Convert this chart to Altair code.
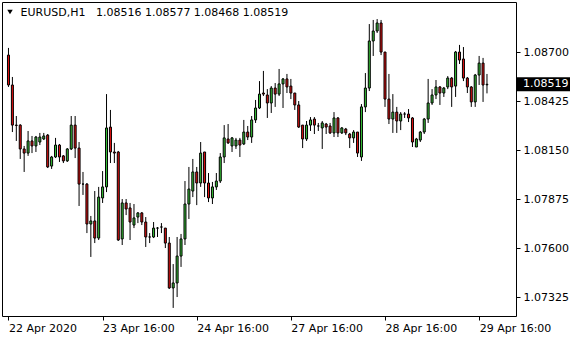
import altair as alt
import pandas as pd

FONT = "DejaVu Sans"
GREEN = "#36c036"
RED = "#e01010"

opens = [
    1.08683, 1.08515, 1.08290, 1.08290, 1.08156, 1.08133, 1.08201, 1.08173, 1.08195, 1.08212,
    1.08234, 1.08060, 1.08111, 1.08178, 1.08117, 1.08089, 1.08156, 1.08290, 1.08161, 1.07959,
    1.07959, 1.07735, 1.07752, 1.07656, 1.07881, 1.07943, 1.08279, 1.08139, 1.08139, 1.07651,
    1.07853, 1.07825, 1.07729, 1.07774, 1.07797, 1.07746, 1.07662, 1.07662, 1.07712, 1.07718,
    1.07712, 1.07628, 1.07376, 1.07404, 1.07555, 1.07651, 1.07847, 1.07920, 1.08027, 1.07965,
    1.08139, 1.07965, 1.07881, 1.07943, 1.07976, 1.08111, 1.08212, 1.08173, 1.08173, 1.08206,
    1.08184, 1.08251, 1.08223, 1.08319, 1.08386, 1.08470, 1.08459, 1.08414, 1.08498, 1.08464,
    1.08521, 1.08549, 1.08509, 1.08470, 1.08403, 1.08290, 1.08212, 1.08290, 1.08324, 1.08285,
    1.08274, 1.08296, 1.08285, 1.08246, 1.08330, 1.08246, 1.08268, 1.08240, 1.08218, 1.08251,
    1.08111, 1.08392, 1.08498, 1.08762, 1.08818, 1.08863, 1.08700, 1.08436, 1.08324, 1.08363,
    1.08313, 1.08352, 1.08352, 1.08330, 1.08167, 1.08206, 1.08251, 1.08324, 1.08414, 1.08459,
    1.08504, 1.08470, 1.08504, 1.08554, 1.08509, 1.08700, 1.08661, 1.08554, 1.08504, 1.08420,
    1.08571, 1.08638, 1.08516,
]

highs = [
    1.08723, 1.08560, 1.08341, 1.08295, 1.08173, 1.08257, 1.08229, 1.08229, 1.08246, 1.08246,
    1.08240, 1.08117, 1.08218, 1.08184, 1.08122, 1.08161, 1.08341, 1.08341, 1.08195, 1.08027,
    1.07965, 1.07780, 1.07920, 1.07943, 1.08032, 1.08464, 1.08375, 1.08190, 1.08145, 1.07875,
    1.07875, 1.07853, 1.07847, 1.07802, 1.07802, 1.07774, 1.07684, 1.07746, 1.07718, 1.07740,
    1.07712, 1.07662, 1.07510, 1.07662, 1.07679, 1.07976, 1.08055, 1.08100, 1.08055, 1.08195,
    1.08139, 1.08021, 1.07971, 1.08021, 1.08133, 1.08290, 1.08296, 1.08223, 1.08218, 1.08218,
    1.08319, 1.08285, 1.08341, 1.08431, 1.08537, 1.08594, 1.08492, 1.08509, 1.08526, 1.08605,
    1.08554, 1.08577, 1.08549, 1.08470, 1.08425, 1.08290, 1.08313, 1.08335, 1.08335, 1.08302,
    1.08313, 1.08302, 1.08302, 1.08363, 1.08335, 1.08279, 1.08274, 1.08246, 1.08262, 1.08251,
    1.08408, 1.08582, 1.08857, 1.08880, 1.08885, 1.08880, 1.08700, 1.08577, 1.08464, 1.08392,
    1.08363, 1.08363, 1.08380, 1.08335, 1.08218, 1.08257, 1.08330, 1.08549, 1.08492, 1.08543,
    1.08509, 1.08504, 1.08565, 1.08560, 1.08706, 1.08740, 1.08728, 1.08560, 1.08509, 1.08577,
    1.08678, 1.08667, 1.08577,
]

lows = [
    1.08504, 1.08251, 1.08201, 1.08100, 1.08027, 1.08117, 1.08133, 1.08139, 1.08178, 1.08206,
    1.08049, 1.08044, 1.08105, 1.08083, 1.08077, 1.08083, 1.08150, 1.08105, 1.07836, 1.07898,
    1.07684, 1.07550, 1.07628, 1.07645, 1.07853, 1.07914, 1.08077, 1.08077, 1.07640, 1.07617,
    1.07785, 1.07645, 1.07712, 1.07740, 1.07729, 1.07606, 1.07628, 1.07656, 1.07662, 1.07684,
    1.07600, 1.07370, 1.07264, 1.07325, 1.07494, 1.07617, 1.07763, 1.07886, 1.07841, 1.07943,
    1.07886, 1.07858, 1.07847, 1.07926, 1.07965, 1.08077, 1.08184, 1.08139, 1.08156, 1.08111,
    1.08178, 1.08206, 1.08190, 1.08302, 1.08380, 1.08453, 1.08330, 1.08358, 1.08392, 1.08453,
    1.08386, 1.08470, 1.08436, 1.08375, 1.08274, 1.08161, 1.08201, 1.08257, 1.08240, 1.08257,
    1.08156, 1.08240, 1.08240, 1.08223, 1.08223, 1.08240, 1.08234, 1.08161, 1.08190, 1.08111,
    1.08089, 1.08363, 1.08481, 1.08678, 1.08807, 1.08683, 1.08392, 1.08296, 1.08246, 1.08246,
    1.08262, 1.08330, 1.08307, 1.08167, 1.08167, 1.08195, 1.08240, 1.08302, 1.08403, 1.08436,
    1.08403, 1.08448, 1.08492, 1.08392, 1.08448, 1.08633, 1.08537, 1.08470, 1.08392, 1.08392,
    1.08515, 1.08420, 1.08468,
]

closes = [
    1.08515, 1.08290, 1.08288, 1.08156, 1.08133, 1.08201, 1.08173, 1.08223, 1.08223, 1.08229,
    1.08055, 1.08111, 1.08178, 1.08111, 1.08089, 1.08156, 1.08290, 1.08161, 1.07959, 1.07959,
    1.07735, 1.07752, 1.07656, 1.07886, 1.07943, 1.08274, 1.08139, 1.08133, 1.07645, 1.07853,
    1.07819, 1.07746, 1.07769, 1.07797, 1.07746, 1.07662, 1.07662, 1.07712, 1.07712, 1.07718,
    1.07628, 1.07376, 1.07404, 1.07555, 1.07651, 1.07847, 1.07931, 1.08027, 1.07965, 1.08133,
    1.07965, 1.07881, 1.07943, 1.07976, 1.08111, 1.08218, 1.08190, 1.08218, 1.08206, 1.08178,
    1.08251, 1.08223, 1.08319, 1.08386, 1.08464, 1.08464, 1.08414, 1.08498, 1.08464, 1.08521,
    1.08549, 1.08504, 1.08470, 1.08403, 1.08279, 1.08212, 1.08290, 1.08319, 1.08290, 1.08285,
    1.08302, 1.08279, 1.08246, 1.08330, 1.08246, 1.08274, 1.08246, 1.08218, 1.08251, 1.08133,
    1.08392, 1.08498, 1.08762, 1.08818, 1.08863, 1.08700, 1.08436, 1.08324, 1.08363, 1.08313,
    1.08352, 1.08352, 1.08330, 1.08195, 1.08212, 1.08251, 1.08324, 1.08414, 1.08459, 1.08504,
    1.08470, 1.08498, 1.08554, 1.08504, 1.08700, 1.08655, 1.08554, 1.08504, 1.08420, 1.08571,
    1.08638, 1.08515, 1.08519,
]

x_tick_positions = [0, 24, 48, 72, 96, 120]
x_tick_labels = ["22 Apr 2020", "23 Apr 16:00", "24 Apr 16:00",
                 "27 Apr 16:00", "28 Apr 16:00", "29 Apr 16:00"]
y_ticks = [1.07325, 1.07600, 1.07875, 1.08150, 1.08425, 1.08700]
header_text = "EURUSD,H1\u00a0\u00a0\u00a01.08516 1.08577 1.08468 1.08519"
last_price = 1.08519

df = pd.DataFrame({
    "i": list(range(len(opens))),
    "open": opens, "high": highs, "low": lows, "close": closes,
})

label_expr = " : ".join(
    f"datum.value == {p} ? '{t}'" for p, t in zip(x_tick_positions, x_tick_labels)
) + " : ''"

xscale = alt.Scale(domain=[-0.375, 128.125], nice=False, zero=False)
yscale = alt.Scale(domain=[1.072186, 1.089808], nice=False, zero=False)

xaxis = alt.Axis(values=x_tick_positions, labelExpr=label_expr, tickSize=4,
                 tickColor="black", labelColor="black", labelFont=FONT,
                 labelFontSize=11, labelAlign="left", labelPadding=2,
                 labelFlush=False, labelOverlap=False, domain=False,
                 grid=False, title=None)
yaxis = alt.Axis(orient="right", values=y_ticks, format=".5f", tickSize=4,
                 tickColor="black", labelColor="black", labelFont=FONT,
                 labelFontSize=11, labelPadding=3, labelOverlap=False,
                 domain=False, grid=False, title=None)

base = alt.Chart(df).transform_calculate(
    dir="datum.close > datum.open ? 'up' : (datum.close < datum.open ? 'down' : 'flat')"
)

wicks = base.mark_rule(color="black", strokeWidth=1).encode(
    x=alt.X("i:Q", scale=xscale, axis=xaxis),
    y=alt.Y("low:Q", scale=yscale, axis=yaxis),
    y2="high:Q",
)

bodies = base.mark_bar(size=2, stroke="black", strokeWidth=1).encode(
    x=alt.X("i:Q", scale=xscale),
    y=alt.Y("open:Q", scale=yscale),
    y2="close:Q",
    color=alt.Color("dir:N", scale=alt.Scale(domain=["up", "down", "flat"],
                                             range=[GREEN, RED, "black"]),
                    legend=None),
)

price_df = pd.DataFrame({"price": [last_price]})
price_box = alt.Chart(price_df).transform_calculate(
    top="datum.price + 0.00039", bot="datum.price - 0.00039"
).mark_rect(color="black").encode(
    x=alt.value(515), x2=alt.value(568),
    y=alt.Y("top:Q", scale=yscale), y2="bot:Q",
)
price_text = alt.Chart(price_df).mark_text(
    color="white", align="left", baseline="middle", font=FONT, fontSize=11
).encode(
    x=alt.value(521), y=alt.Y("price:Q", scale=yscale),
    text=alt.Text("price:Q", format=".5f"),
)

head_df = pd.DataFrame({"t": [header_text]})
header = alt.Chart(head_df).mark_text(
    color="black", align="left", baseline="middle", font=FONT, fontSize=11
).encode(x=alt.value(18.5), y=alt.value(10.5), text="t:N")
triangle = alt.Chart(head_df).mark_point(
    shape="triangle-down", filled=True, color="black", size=30, opacity=1
).encode(x=alt.value(8), y=alt.value(10))

chart = alt.layer(wicks, bodies, price_box, price_text, header, triangle).properties(
    width=514, height=314,
    autosize=alt.AutoSizeParams(type="none"),
    padding={"left": 2, "top": 2, "right": 64, "bottom": 24},
    background="white",
).configure_view(stroke="black", strokeWidth=1)

chart.save("out.html", embed_options={"renderer": "svg", "actions": False})
